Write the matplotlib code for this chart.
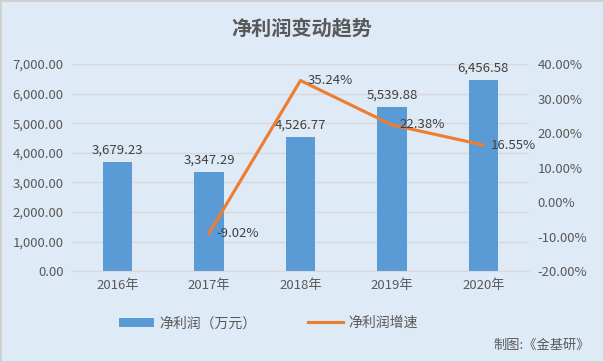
import numpy as np
import matplotlib
matplotlib.use('Agg')
import matplotlib.pyplot as plt

plt.rcParams['font.family'] = ['Noto Sans CJK SC', 'DejaVu Sans']

#%% datos
years = ['2016年', '2017年', '2018年', '2019年', '2020年']
profit = [3679.23, 3347.29, 4526.77, 5539.88, 6456.58]
growth_years = ['2017年', '2018年', '2019年', '2020年']
growth = [-9.02, 35.24, 22.38, 16.55]

bg = '#DEEAF6'
txt = '#595959'

fig = plt.figure(figsize=(6.04, 3.62), dpi=100, facecolor=bg)
ax = fig.add_axes([0.119, 0.251, 0.757, 0.572])
ax.set_facecolor(bg)

xx = np.arange(len(years))
bars = ax.bar(xx, profit, width=0.32, color='#5B9BD5', label='净利润（万元）', zorder=2)
for x, v in zip(xx, profit):
    ax.text(x, v + 180, f'{v:,.2f}', ha='center', va='bottom', fontsize=9.5, color='#404040')

ax.set_ylim(0, 7000)
ax.set_yticks(np.arange(0, 7001, 1000))
ax.set_yticklabels([f'{v:,.2f}' for v in np.arange(0, 7001, 1000)])
ax.set_xlim(-0.5, len(years) - 0.5)
ax.set_xticks(xx)
ax.set_xticklabels(years)
ax.grid(axis='y', color='#D9D9D9', linewidth=1, zorder=0)
ax.tick_params(length=0, labelsize=9.5, colors=txt, pad=6)
for s in ax.spines.values():
    s.set_visible(False)
ax.spines['bottom'].set_visible(True)
ax.spines['bottom'].set_color('#D9D9D9')

ax2 = ax.twinx()
gx = [years.index(y) for y in growth_years]
line, = ax2.plot(gx, growth, color='#ED7D31', linewidth=2.25, label='净利润增速', zorder=3)
for x, v in zip(gx, growth):
    ax2.text(x + 0.08, v, f'{v:.2f}%', ha='left', va='center', fontsize=9.5, color='#404040')
ax2.set_ylim(-20, 40)
ax2.set_yticks(np.arange(-20, 41, 10))
ax2.set_yticklabels([f'{v:.2f}%' for v in np.arange(-20, 41, 10)])
ax2.tick_params(length=0, labelsize=9.5, colors=txt, pad=6)
for s in ax2.spines.values():
    s.set_visible(False)

fig.text(0.5, 0.922, '净利润变动趋势', ha='center', va='center', fontsize=14.5,
         fontweight='bold', color=txt)

fig.legend(handles=[bars, line], loc='center left', bbox_to_anchor=(0.197, 0.107), ncol=2,
           frameon=False, fontsize=10, labelcolor=txt, handlelength=2.5,
           handletextpad=0.4, columnspacing=3.75, handleheight=0.7, borderpad=0,
           borderaxespad=0)

fig.text(0.976, 0.047, '制图:《金基研》', ha='right', va='center', fontsize=9.5, color=txt)

fig.patches.append(plt.Rectangle((0, 0), 1, 1, transform=fig.transFigure, fill=False,
                                 edgecolor='#D0D0D0', linewidth=2))

fig.savefig('out.png', dpi=100, facecolor=bg)
